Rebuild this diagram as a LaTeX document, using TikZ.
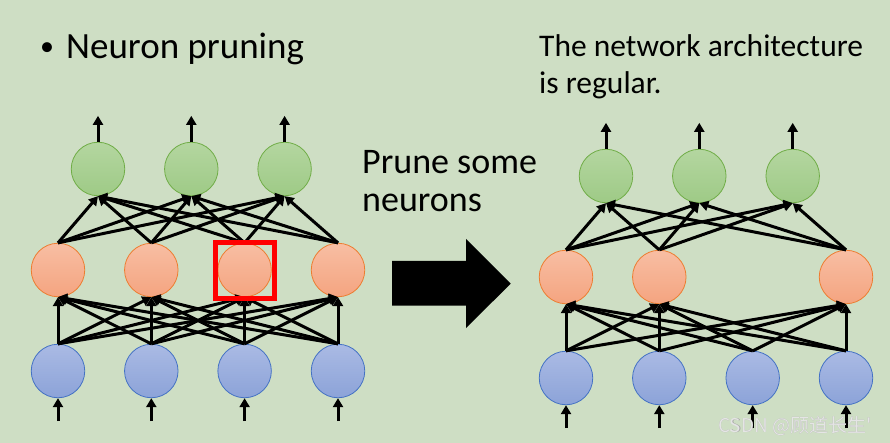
\documentclass[tikz,border=0pt]{standalone}
\usepackage{fontspec}
\setmainfont{Carlito}
\newfontfamily\cjkfont{Noto Sans CJK SC}
\usetikzlibrary{arrows.meta}
\definecolor{bgc}{RGB}{206,222,196}
\definecolor{gtop}{RGB}{180,214,160}
\definecolor{gbot}{RGB}{158,202,134}
\definecolor{gbrd}{RGB}{112,173,71}
\definecolor{otop}{RGB}{248,190,163}
\definecolor{obot}{RGB}{244,164,128}
\definecolor{obrd}{RGB}{237,125,49}
\definecolor{btop}{RGB}{170,186,228}
\definecolor{bbot}{RGB}{140,163,216}
\definecolor{bbrd}{RGB}{68,114,196}
\definecolor{redbox}{RGB}{255,0,0}
\tikzset{
  neuron/.style={circle,minimum size=53.5pt,inner sep=0pt,line width=0.8pt,shading=axis},
  gneuron/.style={neuron,draw=gbrd,top color=gtop,bottom color=gbot},
  oneuron/.style={neuron,draw=obrd,top color=otop,bottom color=obot},
  bneuron/.style={neuron,draw=bbrd,top color=btop,bottom color=bbot},
  conn/.style={line width=3pt,-{Triangle[length=9pt,width=10pt]}},
  txt/.style={inner sep=0pt,anchor=base west},
}
\begin{document}
\begin{tikzpicture}[x=1pt,y=-1pt]
\fill[bgc] (0,0) rectangle (890,443);
\useasboundingbox (0,0) rectangle (890,443);
% texts
\node[txt,font=\fontsize{28}{34}\selectfont] (bul) at (40,56) {•};
\node[txt,font=\fontsize{37}{44}\selectfont] (t1) at (66,59) {Neuron pruning};
\node[txt,font=\fontsize{31.5}{36}\selectfont] (t2) at (539,56.7) {The network architecture};
\node[txt,font=\fontsize{31.5}{36}\selectfont] (t3) at (539,93.3) {is regular.};
\node[txt,font=\fontsize{36}{40}\selectfont] (t4) at (362,173.3) {Prune some};
\node[txt,font=\fontsize{36}{40}\selectfont] (t5) at (362,211.7) {neurons};
% left network
\foreach \i/\x in {1/98,2/191.3,3/284.6}{\node[gneuron] (lg\i) at (\x,169) {};}
\foreach \i/\x in {1/58,2/151.3,3/244.6,4/338}{\node[oneuron] (lo\i) at (\x,270) {};}
\foreach \i/\x in {1/58,2/151.3,3/244.6,4/338}{\node[bneuron] (lb\i) at (\x,371) {};}
\foreach \i in {1,...,4}{\foreach \j in {1,2,3}{\draw[conn] (lo\i.north) -- (lg\j.south);}}
\foreach \i in {1,...,4}{\foreach \j in {1,...,4}{\draw[conn] (lb\i.north) -- (lo\j.south);}}
\foreach \j in {1,2,3}{\path (lg\j.north) ++(0,-26) coordinate (lout\j); \draw[conn] (lg\j.north) -- (lout\j);}
\foreach \j in {1,...,4}{\path (lb\j.south) ++(0,23) coordinate (lin\j); \draw[conn] (lin\j) -- (lb\j.south);}
\node[draw=redbox,line width=5pt,minimum width=59.6pt,minimum height=56pt,inner sep=0pt] (rb) at (245,270.5) {};
% big arrow
\fill[black] (392,261) -- (466,261) -- (466,239) -- (510.7,283.7) -- (466,328) -- (466,305.7) -- (392,305.7) -- cycle;
% right network
\foreach \i/\x in {1/606,2/699.3,3/792.7}{\node[gneuron] (rg\i) at (\x,176) {};}
\foreach \i/\x in {1/566,2/659.3,4/846}{\node[oneuron] (ro\i) at (\x,277) {};}
\foreach \i/\x in {1/566,2/659.3,3/752.7,4/846}{\node[bneuron] (rb\i) at (\x,378) {};}
\foreach \i in {1,2,4}{\foreach \j in {1,2,3}{\draw[conn] (ro\i.north) -- (rg\j.south);}}
\foreach \i in {1,...,4}{\foreach \j in {1,2,4}{\draw[conn] (rb\i.north) -- (ro\j.south);}}
\foreach \j in {1,2,3}{\path (rg\j.north) ++(0,-26) coordinate (rout\j); \draw[conn] (rg\j.north) -- (rout\j);}
\foreach \j in {1,...,4}{\path (rb\j.south) ++(0,23) coordinate (rin\j); \draw[conn] (rin\j) -- (rb\j.south);}
% watermark
\node[txt,font=\cjkfont\fontsize{19}{22}\selectfont,text=black!35] (wms) at (718.6,432.6) {CSDN @顾道长生'};
\node[txt,font=\cjkfont\fontsize{19}{22}\selectfont,text=white!90!black] (wm) at (718,432) {CSDN @顾道长生'};
\end{tikzpicture}
\end{document}
